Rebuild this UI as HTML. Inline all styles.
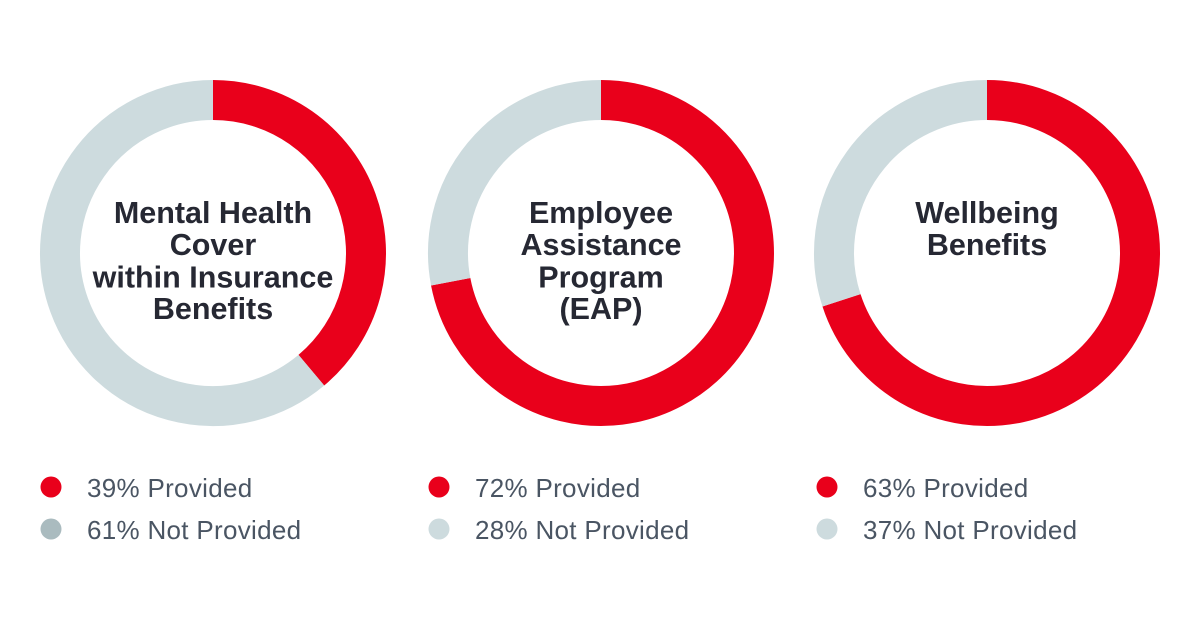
<!DOCTYPE html>
<html>
<head>
<meta charset="utf-8">
<style>
  html,body{margin:0;padding:0;background:#ffffff;}
  body{width:1200px;height:640px;overflow:hidden;}
  svg{display:block;}
  .t{font-family:"Liberation Sans",sans-serif;font-weight:bold;font-size:30.5px;fill:#262833;}
  .l{font-family:"Liberation Sans",sans-serif;font-size:26px;fill:#4a5563;letter-spacing:0.3px;}
</style>
</head>
<body>
<svg width="1200" height="640" viewBox="0 0 1200 640" xmlns="http://www.w3.org/2000/svg">
  <rect width="1200" height="640" fill="#ffffff"/>
  <!-- Donut 1 -->
  <path d="M213,100 A153,153 0 0 1 311.35,370.2" fill="none" stroke="#e9001b" stroke-width="40"/>
  <path d="M311.35,370.2 A153,153 0 1 1 213,100" fill="none" stroke="#cddbde" stroke-width="40"/>
  <!-- Donut 2 -->
  <path d="M601,100 A153,153 0 1 1 450.7,281.7" fill="none" stroke="#e9001b" stroke-width="40"/>
  <path d="M450.7,281.7 A153,153 0 0 1 601,100" fill="none" stroke="#cddbde" stroke-width="40"/>
  <!-- Donut 3 -->
  <path d="M987,100 A153,153 0 1 1 841.5,300.3" fill="none" stroke="#e9001b" stroke-width="40"/>
  <path d="M841.5,300.3 A153,153 0 0 1 987,100" fill="none" stroke="#cddbde" stroke-width="40"/>

  <!-- Titles -->
  <text class="t" text-anchor="middle" x="213" y="223">Mental Health</text>
  <text class="t" text-anchor="middle" x="213" y="255">Cover</text>
  <text class="t" text-anchor="middle" x="213" y="287.5">within Insurance</text>
  <text class="t" text-anchor="middle" x="213" y="319">Benefits</text>

  <text class="t" text-anchor="middle" x="601" y="223">Employee</text>
  <text class="t" text-anchor="middle" x="601" y="255">Assistance</text>
  <text class="t" text-anchor="middle" x="601" y="287.5">Program</text>
  <text class="t" text-anchor="middle" x="601" y="319">(EAP)</text>

  <text class="t" text-anchor="middle" x="987" y="223">Wellbeing</text>
  <text class="t" text-anchor="middle" x="987" y="255">Benefits</text>

  <!-- Legends -->
  <circle cx="51" cy="487" r="10.5" fill="#e9001b"/>
  <text class="l" x="87" y="497">39% Provided</text>
  <circle cx="51" cy="529" r="10.5" fill="#aabbbf"/>
  <text class="l" x="87" y="539">61% Not Provided</text>

  <circle cx="439" cy="487" r="10.5" fill="#e9001b"/>
  <text class="l" x="475" y="497">72% Provided</text>
  <circle cx="439" cy="529" r="10.5" fill="#cddbde"/>
  <text class="l" x="475" y="539">28% Not Provided</text>

  <circle cx="827" cy="487" r="10.5" fill="#e9001b"/>
  <text class="l" x="863" y="497">63% Provided</text>
  <circle cx="827" cy="529" r="10.5" fill="#cddbde"/>
  <text class="l" x="863" y="539">37% Not Provided</text>
</svg>
</body>
</html>
